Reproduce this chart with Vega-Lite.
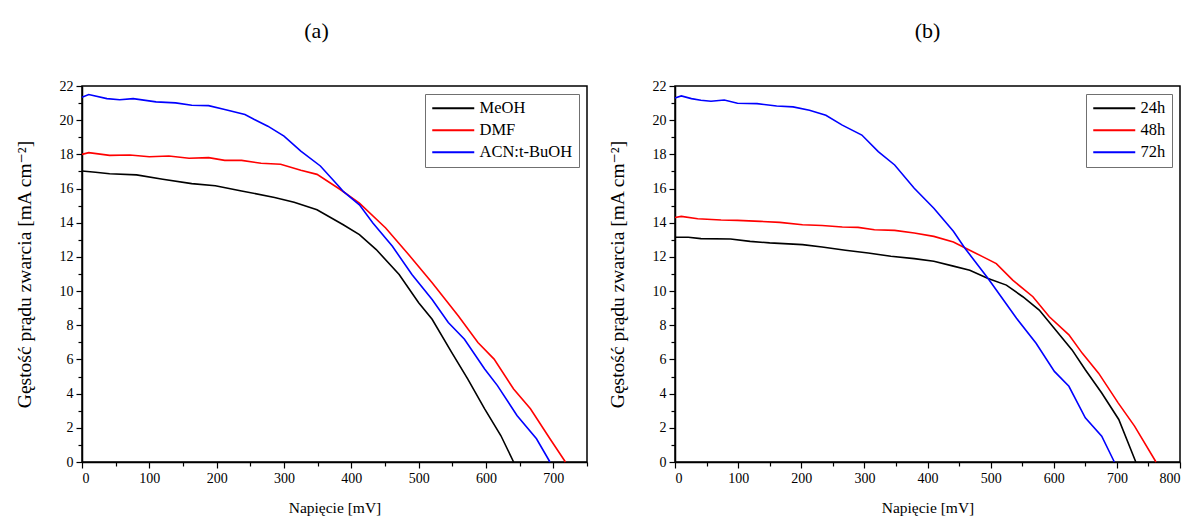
{
  "$schema": "https://vega.github.io/schema/vega-lite/v6.json",
  "background": "white",
  "padding": {"left": 13, "top": 19, "right": 0, "bottom": 0},
  "config": {
    "font": "Liberation Serif, Times New Roman, DejaVu Serif, serif",
    "view": {"stroke": "black", "strokeWidth": 1.5},
    "axis": {
      "grid": false,
      "labelFont": "Liberation Serif, Times New Roman, DejaVu Serif, serif",
      "labelFontSize": 14,
      "labelColor": "black",
      "titleFont": "Liberation Serif, Times New Roman, DejaVu Serif, serif",
      "titleFontSize": 15.5,
      "titleFontWeight": "normal",
      "titleColor": "black",
      "domainColor": "black",
      "domainWidth": 1.5,
      "tickColor": "black",
      "tickWidth": 1.2,
      "labelPadding": 3
    },
    "legend": {
      "labelFont": "Liberation Serif, Times New Roman, DejaVu Serif, serif",
      "labelFontSize": 16.5,
      "labelColor": "black",
      "strokeColor": "#707070",
      "fillColor": "white",
      "padding": 6,
      "rowPadding": 5,
      "symbolType": "M-1,0H5",
      "symbolSize": 196,
      "symbolStrokeWidth": 2,
      "labelOffset": 32,
      "orient": "top-right",
      "offset": 8,
      "title": null
    },
    "title": {"font": "Liberation Serif, Times New Roman, DejaVu Serif, serif", "fontSize": 22, "fontWeight": "normal", "color": "black", "offset": 36, "anchor": "middle"}
  },
  "datasets": {
    "a": [
      {"s": "MeOH", "v": 0, "j": 17.03}, {"s": "MeOH", "v": 20, "j": 16.95}, {"s": "MeOH", "v": 41, "j": 16.87}, {"s": "MeOH", "v": 81, "j": 16.8}, {"s": "MeOH", "v": 120, "j": 16.54}, {"s": "MeOH", "v": 163, "j": 16.29}, {"s": "MeOH", "v": 198, "j": 16.16}, {"s": "MeOH", "v": 237, "j": 15.86}, {"s": "MeOH", "v": 286, "j": 15.48}, {"s": "MeOH", "v": 315, "j": 15.2}, {"s": "MeOH", "v": 349, "j": 14.76}, {"s": "MeOH", "v": 388, "j": 13.88}, {"s": "MeOH", "v": 412, "j": 13.3}, {"s": "MeOH", "v": 437, "j": 12.43}, {"s": "MeOH", "v": 471, "j": 10.97}, {"s": "MeOH", "v": 500, "j": 9.32}, {"s": "MeOH", "v": 520, "j": 8.35}, {"s": "MeOH", "v": 549, "j": 6.41}, {"s": "MeOH", "v": 573, "j": 4.85}, {"s": "MeOH", "v": 598, "j": 3.11}, {"s": "MeOH", "v": 622, "j": 1.55}, {"s": "MeOH", "v": 641, "j": 0},
      {"s": "DMF", "v": 0, "j": 18.0}, {"s": "DMF", "v": 10, "j": 18.1}, {"s": "DMF", "v": 41, "j": 17.94}, {"s": "DMF", "v": 71, "j": 17.96}, {"s": "DMF", "v": 100, "j": 17.86}, {"s": "DMF", "v": 129, "j": 17.9}, {"s": "DMF", "v": 159, "j": 17.77}, {"s": "DMF", "v": 188, "j": 17.81}, {"s": "DMF", "v": 212, "j": 17.65}, {"s": "DMF", "v": 237, "j": 17.65}, {"s": "DMF", "v": 266, "j": 17.48}, {"s": "DMF", "v": 295, "j": 17.42}, {"s": "DMF", "v": 325, "j": 17.07}, {"s": "DMF", "v": 349, "j": 16.83}, {"s": "DMF", "v": 383, "j": 15.96}, {"s": "DMF", "v": 412, "j": 15.15}, {"s": "DMF", "v": 451, "j": 13.69}, {"s": "DMF", "v": 485, "j": 12.14}, {"s": "DMF", "v": 520, "j": 10.49}, {"s": "DMF", "v": 559, "j": 8.54}, {"s": "DMF", "v": 588, "j": 6.99}, {"s": "DMF", "v": 612, "j": 6.02}, {"s": "DMF", "v": 641, "j": 4.27}, {"s": "DMF", "v": 666, "j": 3.11}, {"s": "DMF", "v": 695, "j": 1.36}, {"s": "DMF", "v": 718, "j": 0},
      {"s": "ACN:t-BuOH", "v": 0, "j": 21.34}, {"s": "ACN:t-BuOH", "v": 10, "j": 21.5}, {"s": "ACN:t-BuOH", "v": 37, "j": 21.26}, {"s": "ACN:t-BuOH", "v": 56, "j": 21.2}, {"s": "ACN:t-BuOH", "v": 76, "j": 21.26}, {"s": "ACN:t-BuOH", "v": 110, "j": 21.07}, {"s": "ACN:t-BuOH", "v": 139, "j": 21.01}, {"s": "ACN:t-BuOH", "v": 163, "j": 20.87}, {"s": "ACN:t-BuOH", "v": 188, "j": 20.85}, {"s": "ACN:t-BuOH", "v": 212, "j": 20.62}, {"s": "ACN:t-BuOH", "v": 242, "j": 20.33}, {"s": "ACN:t-BuOH", "v": 256, "j": 20.04}, {"s": "ACN:t-BuOH", "v": 276, "j": 19.65}, {"s": "ACN:t-BuOH", "v": 300, "j": 19.07}, {"s": "ACN:t-BuOH", "v": 325, "j": 18.19}, {"s": "ACN:t-BuOH", "v": 354, "j": 17.32}, {"s": "ACN:t-BuOH", "v": 383, "j": 16.06}, {"s": "ACN:t-BuOH", "v": 388, "j": 15.83}, {"s": "ACN:t-BuOH", "v": 412, "j": 15.05}, {"s": "ACN:t-BuOH", "v": 432, "j": 13.98}, {"s": "ACN:t-BuOH", "v": 461, "j": 12.62}, {"s": "ACN:t-BuOH", "v": 490, "j": 10.97}, {"s": "ACN:t-BuOH", "v": 520, "j": 9.51}, {"s": "ACN:t-BuOH", "v": 544, "j": 8.16}, {"s": "ACN:t-BuOH", "v": 568, "j": 7.18}, {"s": "ACN:t-BuOH", "v": 598, "j": 5.44}, {"s": "ACN:t-BuOH", "v": 617, "j": 4.47}, {"s": "ACN:t-BuOH", "v": 646, "j": 2.72}, {"s": "ACN:t-BuOH", "v": 675, "j": 1.36}, {"s": "ACN:t-BuOH", "v": 695, "j": 0}
    ],
    "b": [
      {"s": "24h", "v": 0, "j": 13.15}, {"s": "24h", "v": 21, "j": 13.15}, {"s": "24h", "v": 41, "j": 13.07}, {"s": "24h", "v": 88, "j": 13.05}, {"s": "24h", "v": 119, "j": 12.91}, {"s": "24h", "v": 150, "j": 12.82}, {"s": "24h", "v": 202, "j": 12.72}, {"s": "24h", "v": 233, "j": 12.58}, {"s": "24h", "v": 270, "j": 12.39}, {"s": "24h", "v": 306, "j": 12.23}, {"s": "24h", "v": 342, "j": 12.04}, {"s": "24h", "v": 379, "j": 11.9}, {"s": "24h", "v": 410, "j": 11.75}, {"s": "24h", "v": 441, "j": 11.46}, {"s": "24h", "v": 467, "j": 11.22}, {"s": "24h", "v": 496, "j": 10.74}, {"s": "24h", "v": 525, "j": 10.35}, {"s": "24h", "v": 551, "j": 9.67}, {"s": "24h", "v": 577, "j": 8.89}, {"s": "24h", "v": 603, "j": 7.73}, {"s": "24h", "v": 629, "j": 6.56}, {"s": "24h", "v": 650, "j": 5.4}, {"s": "24h", "v": 676, "j": 4.04}, {"s": "24h", "v": 703, "j": 2.49}, {"s": "24h", "v": 730, "j": 0},
      {"s": "48h", "v": 0, "j": 14.31}, {"s": "48h", "v": 10, "j": 14.37}, {"s": "48h", "v": 36, "j": 14.23}, {"s": "48h", "v": 73, "j": 14.16}, {"s": "48h", "v": 99, "j": 14.14}, {"s": "48h", "v": 135, "j": 14.08}, {"s": "48h", "v": 166, "j": 14.02}, {"s": "48h", "v": 202, "j": 13.88}, {"s": "48h", "v": 233, "j": 13.84}, {"s": "48h", "v": 265, "j": 13.75}, {"s": "48h", "v": 290, "j": 13.73}, {"s": "48h", "v": 316, "j": 13.59}, {"s": "48h", "v": 348, "j": 13.55}, {"s": "48h", "v": 379, "j": 13.4}, {"s": "48h", "v": 410, "j": 13.2}, {"s": "48h", "v": 441, "j": 12.87}, {"s": "48h", "v": 459, "j": 12.54}, {"s": "48h", "v": 488, "j": 12.0}, {"s": "48h", "v": 509, "j": 11.61}, {"s": "48h", "v": 535, "j": 10.64}, {"s": "48h", "v": 567, "j": 9.67}, {"s": "48h", "v": 593, "j": 8.5}, {"s": "48h", "v": 624, "j": 7.44}, {"s": "48h", "v": 645, "j": 6.37}, {"s": "48h", "v": 671, "j": 5.2}, {"s": "48h", "v": 702, "j": 3.46}, {"s": "48h", "v": 728, "j": 2.1}, {"s": "48h", "v": 762, "j": 0},
      {"s": "72h", "v": 0, "j": 21.3}, {"s": "72h", "v": 10, "j": 21.42}, {"s": "72h", "v": 26, "j": 21.26}, {"s": "72h", "v": 41, "j": 21.17}, {"s": "72h", "v": 57, "j": 21.11}, {"s": "72h", "v": 78, "j": 21.18}, {"s": "72h", "v": 99, "j": 20.99}, {"s": "72h", "v": 130, "j": 20.97}, {"s": "72h", "v": 161, "j": 20.83}, {"s": "72h", "v": 187, "j": 20.78}, {"s": "72h", "v": 213, "j": 20.58}, {"s": "72h", "v": 239, "j": 20.29}, {"s": "72h", "v": 265, "j": 19.71}, {"s": "72h", "v": 296, "j": 19.13}, {"s": "72h", "v": 322, "j": 18.16}, {"s": "72h", "v": 348, "j": 17.38}, {"s": "72h", "v": 379, "j": 16.02}, {"s": "72h", "v": 410, "j": 14.85}, {"s": "72h", "v": 441, "j": 13.5}, {"s": "72h", "v": 459, "j": 12.52}, {"s": "72h", "v": 496, "j": 10.74}, {"s": "72h", "v": 541, "j": 8.41}, {"s": "72h", "v": 572, "j": 6.95}, {"s": "72h", "v": 601, "j": 5.3}, {"s": "72h", "v": 624, "j": 4.43}, {"s": "72h", "v": 650, "j": 2.58}, {"s": "72h", "v": 676, "j": 1.51}, {"s": "72h", "v": 696, "j": 0}
    ]
  },
  "resolve": {"scale": {"color": "independent", "x": "independent", "y": "independent"}},
  "spacing": 17,
  "hconcat": [
    {
      "title": {"text": "(a)", "dx": -18},
      "width": 505,
      "height": 376,
      "data": {"name": "a"},
      "mark": {"type": "line", "strokeWidth": 1.6},
      "encoding": {
        "x": {
          "field": "v", "type": "quantitative",
          "scale": {"domain": [0, 750], "nice": false},
          "axis": {
            "title": "Napięcie [mV]",
            "titlePadding": 15,
            "values": [0, 50, 100, 150, 200, 250, 300, 350, 400, 450, 500, 550, 600, 650, 700, 750],
            "labelExpr": "datum.value % 100 === 0 ? datum.label : ''",
            "tickSize": {"condition": {"test": "datum.value % 100 === 0", "value": 6}, "value": 4},
            "labelOverlap": false
          }
        },
        "y": {
          "field": "j", "type": "quantitative",
          "scale": {"domain": [0, 22], "nice": false},
          "axis": {
            "title": "Gęstość prądu zwarcia [mA cm⁻²]",
            "titleFontSize": 19.5,
            "titlePadding": 25,
            "values": [0, 1, 2, 3, 4, 5, 6, 7, 8, 9, 10, 11, 12, 13, 14, 15, 16, 17, 18, 19, 20, 21, 22],
            "labelExpr": "datum.value % 2 === 0 ? datum.label : ''",
            "tickSize": {"condition": {"test": "datum.value % 2 === 0", "value": 6}, "value": 4},
            "labelOverlap": false
          }
        },
        "color": {
          "field": "s", "type": "nominal",
          "scale": {"domain": ["MeOH", "DMF", "ACN:t-BuOH"], "range": ["#000000", "#ff0000", "#0000ff"]},
          "legend": {}
        }
      }
    },
    {
      "title": {"text": "(b)"},
      "width": 505,
      "height": 376,
      "data": {"name": "b"},
      "mark": {"type": "line", "strokeWidth": 1.6},
      "encoding": {
        "x": {
          "field": "v", "type": "quantitative",
          "scale": {"domain": [0, 800], "nice": false},
          "axis": {
            "title": "Napięcie [mV]",
            "titlePadding": 15,
            "values": [0, 50, 100, 150, 200, 250, 300, 350, 400, 450, 500, 550, 600, 650, 700, 750, 800],
            "labelExpr": "datum.value % 100 === 0 ? datum.label : ''",
            "tickSize": {"condition": {"test": "datum.value % 100 === 0", "value": 6}, "value": 4},
            "labelOverlap": false
          }
        },
        "y": {
          "field": "j", "type": "quantitative",
          "scale": {"domain": [0, 22], "nice": false},
          "axis": {
            "title": "Gęstość prądu zwarcia [mA cm⁻²]",
            "titleFontSize": 19.5,
            "titlePadding": 25,
            "values": [0, 1, 2, 3, 4, 5, 6, 7, 8, 9, 10, 11, 12, 13, 14, 15, 16, 17, 18, 19, 20, 21, 22],
            "labelExpr": "datum.value % 2 === 0 ? datum.label : ''",
            "tickSize": {"condition": {"test": "datum.value % 2 === 0", "value": 6}, "value": 4},
            "labelOverlap": false
          }
        },
        "color": {
          "field": "s", "type": "nominal",
          "scale": {"domain": ["24h", "48h", "72h"], "range": ["#000000", "#ff0000", "#0000ff"]},
          "legend": {}
        }
      }
    }
  ]
}
